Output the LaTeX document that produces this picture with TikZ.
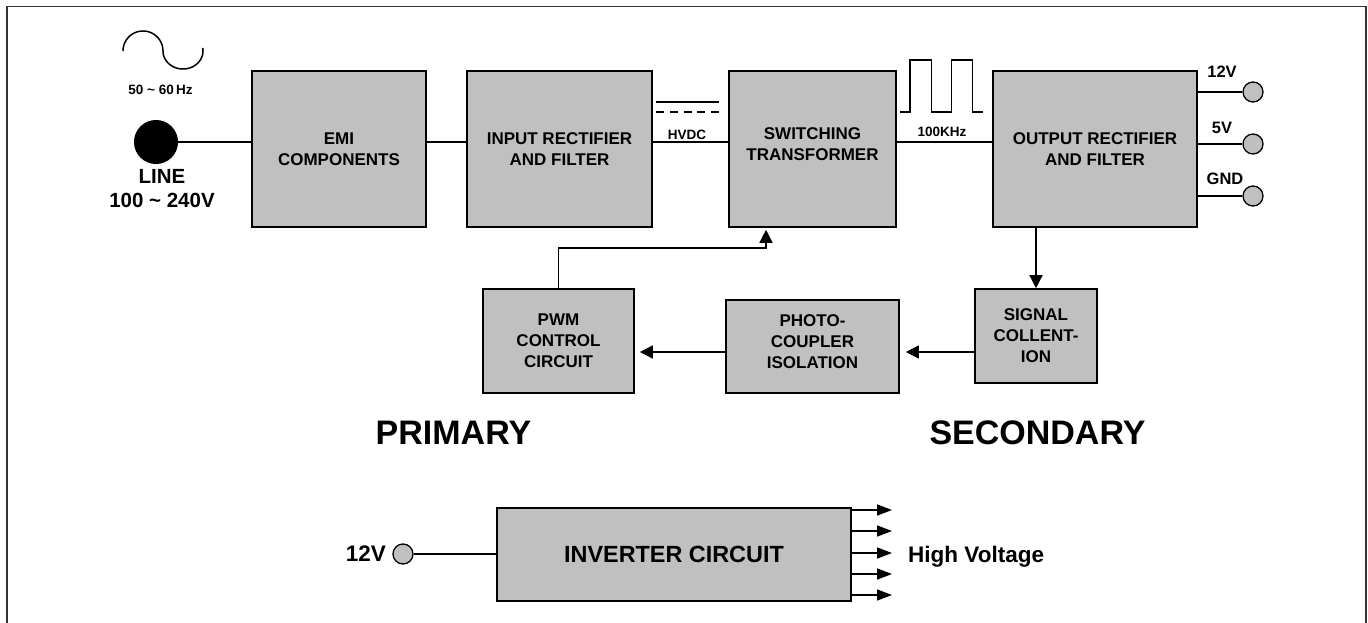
\documentclass[tikz,border=0pt]{standalone}
\usepackage{fontspec}
\setmainfont{Liberation Sans}
\usetikzlibrary{arrows.meta}
\definecolor{boxgray}{RGB}{192,192,192}
\begin{document}
\begin{tikzpicture}[x=1pt,y=-1pt,
  box/.style={draw,line width=1.6pt,fill=boxgray,inner sep=0pt,align=center,
    font=\fontsize{17}{21}\selectfont\bfseries},
  conn/.style={line width=1.5pt},
  arr/.style={conn,-{Triangle[length=13pt,width=13pt]}},
  iarr/.style={conn,-{Triangle[length=15pt,width=11pt]}},
  term/.style={circle,draw,line width=1.3pt,fill=boxgray,minimum size=20pt,inner sep=0pt},
  small/.style={inner sep=0pt,font=\fontsize{13.5}{16}\selectfont\bfseries},
  mid/.style={inner sep=0pt,font=\fontsize{16.5}{20}\selectfont\bfseries},
  big/.style={inner sep=0pt,font=\fontsize{22.5}{27}\selectfont\bfseries},
  huge/.style={inner sep=0pt,font=\fontsize{34}{40}\selectfont\bfseries}]
\useasboundingbox (0,0) rectangle (1368,623);
% frame
\draw[line width=1.4pt,black!80] (7,625) -- (7,6.5) -- (1366,6.5) -- (1366,625);

% main boxes
\node[box,minimum width=174pt,minimum height=156pt] (emi) at (339,149) {EMI\\COMPONENTS};
\node[box,minimum width=185pt,minimum height=156pt] (inrect) at (559.5,149) {INPUT RECTIFIER\\AND FILTER};
\node[box,minimum width=167pt,minimum height=156pt,text depth=9pt] (sw) at (812.5,149) {SWITCHING\\TRANSFORMER};
\node[box,minimum width=204pt,minimum height=156pt] (outrect) at (1095,149) {OUTPUT RECTIFIER\\AND FILTER};
\node[box,minimum width=151pt,minimum height=104pt] (pwm) at (558.5,341) {PWM\\CONTROL\\CIRCUIT};
\node[box,minimum width=173pt,minimum height=93pt,text depth=9pt] (photo) at (812.5,346.5) {PHOTO-\\COUPLER\\ISOLATION};
\node[box,minimum width=122pt,minimum height=94pt] (sig) at (1036,336) {SIGNAL\\COLLENT-\\ION};
\node[box,minimum width=354pt,minimum height=93pt,font=\fontsize{23.4}{28}\selectfont\bfseries] (inv) at (674,554.5) {INVERTER CIRCUIT};

% AC source
\draw[conn] plot[domain=0:180,samples=40] ({143-20*cos(\x)},{51-20*sin(\x)});
\draw[conn] plot[domain=0:190,samples=40] ({183-20*cos(\x)},{51+18*sin(\x)});
\node[small,anchor=base] (hz) at (160.5,94.3) {50 \char`~\ 60\,Hz};
\node[circle,fill=black,draw,line width=1pt,minimum size=43pt,inner sep=0pt] (linec) at (156,142) {};
\node[big,font=\fontsize{20.5}{24}\selectfont\bfseries] (linel) at (162,176) {LINE};
\node[big,font=\fontsize{20.5}{24}\selectfont\bfseries] (linev) at (162,200) {100 \char`~\ 240V};

% top chain
\coordinate (ly) at (0,142);
\draw[conn] (linec.east) -- (emi.west |- linec.east);
\draw[conn] (emi.east |- ly) -- (inrect.west |- ly);
\draw[conn] (inrect.east |- ly) -- (sw.west |- ly);
\draw[conn] (sw.east |- ly) -- (outrect.west |- ly);

% HVDC symbol
\draw[conn] (656,102) -- (719,102);
\draw[conn,dash pattern=on 8pt off 5.75pt] (656,112) -- (719,112);
\node[small] (hvdc) at (687,134.7) {HVDC};

% square wave
\draw[conn] (900,112) -- (910,112) -- (910,60) -- (931.7,60) -- (931.7,112) -- (951.7,112)
  -- (951.7,60) -- (972.7,60) -- (972.7,112) -- (983,112);
\node[small,anchor=base] (khz) at (942,136) {100KHz};

% outputs
\foreach \n/\yy/\lab/\lx/\lyy in {t12/92/12V/1222/72, t5/144/5V/1222/128, tgnd/196/GND/1225/179} {
  \node[term] (\n) at (1253,\yy) {};
  \draw[conn] (outrect.east |- \n) -- (\n);
  \node[mid] (l\n) at (\lx,\lyy) {\lab};
}

% feedback loop
\coordinate (fb) at (766,248);
\draw[arr,shorten >=2pt] (pwm.north) |- (fb) -- (fb |- sw.south);
\draw[arr] (sig.north |- outrect.south) -- (sig.north);
\coordinate (ay) at (0,352);
\draw[arr,shorten >=5pt] (photo.west |- ay) -- (pwm.east |- ay);
\draw[arr,shorten >=6pt] (sig.west |- ay) -- (photo.east |- ay);

% section labels
\node[huge] (prim) at (453.5,433) {PRIMARY};
\node[huge] (sec) at (1037.5,433) {SECONDARY};

% inverter
\node[term] (tin) at (403,554) {};
\node[big,anchor=east] (l12in) at (386,554) {12V};
\draw[conn] (tin) -- (inv.west |- tin);
\foreach \i/\yy in {1/510,2/531,3/553,4/574,5/595} {
  \coordinate (o\i) at (892,\yy);
  \draw[iarr] (inv.east |- o\i) -- (o\i);
}
\node[big,anchor=base west] (hv) at (908,562.4) {High Voltage};
\end{tikzpicture}
\end{document}
